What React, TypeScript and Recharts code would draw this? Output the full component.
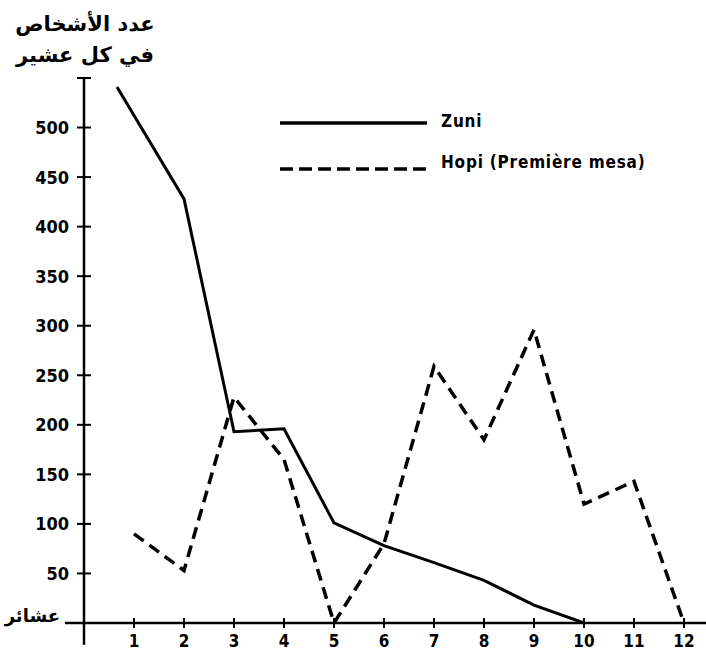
import React from 'react';
import { LineChart, Line, XAxis, YAxis, ReferenceLine, Legend } from 'recharts';

// ---- data ----
const clanTicks = [1, 2, 3, 4, 5, 6, 7, 8, 9, 10, 11, 12];
const countTicks = [50, 100, 150, 200, 250, 300, 350, 400, 450, 500, 550];
const labelledCountTicks = [50, 100, 150, 200, 250, 300, 350, 400, 450, 500];

const zuniClans = [0.66, 2, 3, 4, 5, 6, 7, 8, 9, 10];
const zuniCounts = [541, 428, 193, 196, 101, 78, 61, 43, 18, 0];

const hopiClans = [1, 2, 3, 4, 5, 6, 7, 8, 9, 10, 11, 12];
const hopiCounts = [90, 53, 228, 165, 0, 80, 259, 185, 296, 120, 143, 0];

const seriesNames = ['Zuni', 'Hopi (Première mesa)'];
const yTitleLines = ['عدد الأشخاص', 'في كل عشير'];
const xTitle = 'عشائر';

const zuniData = zuniClans.map((c, i) => ({ clan: c, count: zuniCounts[i] }));
const hopiData = hopiClans.map((c, i) => ({ clan: c, count: hopiCounts[i] }));

const LATIN = '"DejaVu Sans Condensed", "DejaVu Sans", sans-serif';
const ARABIC = '"DejaVu Sans", "Noto Sans", sans-serif';
const HOPI_DASH = '12 7';

function YTick(props: any) {
  const { x, y, payload } = props;
  const v = payload.value;
  return (
    <g>
      <line x1={x - 7} x2={x + 7} y1={y} y2={y} stroke="#000" strokeWidth={2} />
      {labelledCountTicks.includes(v) && (
        <text
          x={x - 15}
          y={y}
          dy="0.36em"
          textAnchor="end"
          fontFamily={LATIN}
          fontWeight="bold"
          fontSize={18}
          fill="#000"
        >
          {v}
        </text>
      )}
    </g>
  );
}

function XTick(props: any) {
  const { x, y, payload } = props;
  return (
    <g>
      <line x1={x} x2={x} y1={y - 5} y2={y + 5} stroke="#000" strokeWidth={2} />
      <text
        x={x}
        y={y + 24}
        textAnchor="middle"
        fontFamily={LATIN}
        fontWeight="bold"
        fontSize={17}
        fill="#000"
      >
        {payload.value}
      </text>
    </g>
  );
}

const renderLegend = (props: any) => {
  const items = [...(props.payload || [])].sort(
    (a: any, b: any) => seriesNames.indexOf(a.value) - seriesNames.indexOf(b.value)
  );
  return (
    <div style={{ fontFamily: LATIN, fontWeight: 'bold', fontSize: 17, letterSpacing: 0.8, color: '#000' }}>
      {items.map((entry: any, i: number) => {
        const dashed = entry.value === seriesNames[1];
        return (
          <div
            key={i}
            style={{ display: 'flex', alignItems: 'center', height: 30, marginBottom: i === 0 ? 11 : 0 }}
          >
            <svg width={147} height={10} style={{ position: 'relative', top: i === 0 ? 2 : 7 }}>
              <line
                x1={0}
                x2={147}
                y1={5}
                y2={5}
                stroke="#000"
                strokeWidth={3.5}
                strokeDasharray={dashed ? '13 6' : undefined}
              />
            </svg>
            <span style={{ marginLeft: 14, whiteSpace: 'nowrap' }}>{entry.value}</span>
          </div>
        );
      })}
    </div>
  );
};

export default function App() {
  return (
    <div style={{ position: 'relative', width: 706, height: 652, background: '#fff' }}>
      <style>{`body{margin:0;background:#fff;}`}</style>
      <LineChart width={706} height={652} margin={{ top: 78, right: 0, bottom: 0, left: 0 }}>
        <XAxis
          type="number"
          dataKey="clan"
          domain={[0, 12.44]}
          allowDataOverflow
          ticks={clanTicks}
          interval={0}
          height={29}
          tickSize={0}
          tickMargin={0}
          tickLine={false}
          axisLine={{ stroke: '#000', strokeWidth: 2.5 }}
          tick={<XTick />}
        />
        <YAxis
          type="number"
          domain={[0, 550]}
          allowDataOverflow
          ticks={countTicks}
          interval={0}
          width={84}
          tickSize={0}
          tickMargin={0}
          tickLine={false}
          axisLine={{ stroke: '#000', strokeWidth: 2.5 }}
          tick={<YTick />}
        />
        <ReferenceLine
          segment={[{ x: 0, y: 0 }, { x: 0, y: -22 }]}
          ifOverflow="visible"
          stroke="#000"
          strokeWidth={2.5}
        />
        <ReferenceLine
          segment={[{ x: -0.38, y: 0 }, { x: 0, y: 0 }]}
          ifOverflow="visible"
          stroke="#000"
          strokeWidth={2.5}
        />
        <Line
          data={zuniData}
          dataKey="count"
          name={seriesNames[0]}
          type="linear"
          stroke="#000"
          strokeWidth={3}
          dot={false}
          activeDot={false}
          isAnimationActive={false}
        />
        <Line
          data={hopiData}
          dataKey="count"
          name={seriesNames[1]}
          type="linear"
          stroke="#000"
          strokeWidth={3.5}
          strokeDasharray={HOPI_DASH}
          dot={false}
          activeDot={false}
          isAnimationActive={false}
        />
        <Legend
          layout="vertical"
          align="center"
          verticalAlign="middle"
          content={renderLegend}
          wrapperStyle={{ position: 'absolute', left: 280, top: 106, width: 'auto' }}
        />
      </LineChart>
      <div
        dir="rtl"
        style={{
          position: 'absolute',
          left: 0,
          top: 9,
          width: 170,
          textAlign: 'center',
          fontFamily: ARABIC,
          fontWeight: 'bold',
          fontSize: 21,
          lineHeight: '31px',
          color: '#000',
        }}
      >
        <div>{yTitleLines[0]}</div>
        <div>{yTitleLines[1]}</div>
      </div>
      <div
        dir="rtl"
        style={{
          position: 'absolute',
          left: 0,
          top: 604,
          width: 60,
          textAlign: 'right',
          fontFamily: ARABIC,
          fontWeight: 'bold',
          fontSize: 18,
          lineHeight: '24px',
          color: '#000',
        }}
      >
        {xTitle}
      </div>
    </div>
  );
}
